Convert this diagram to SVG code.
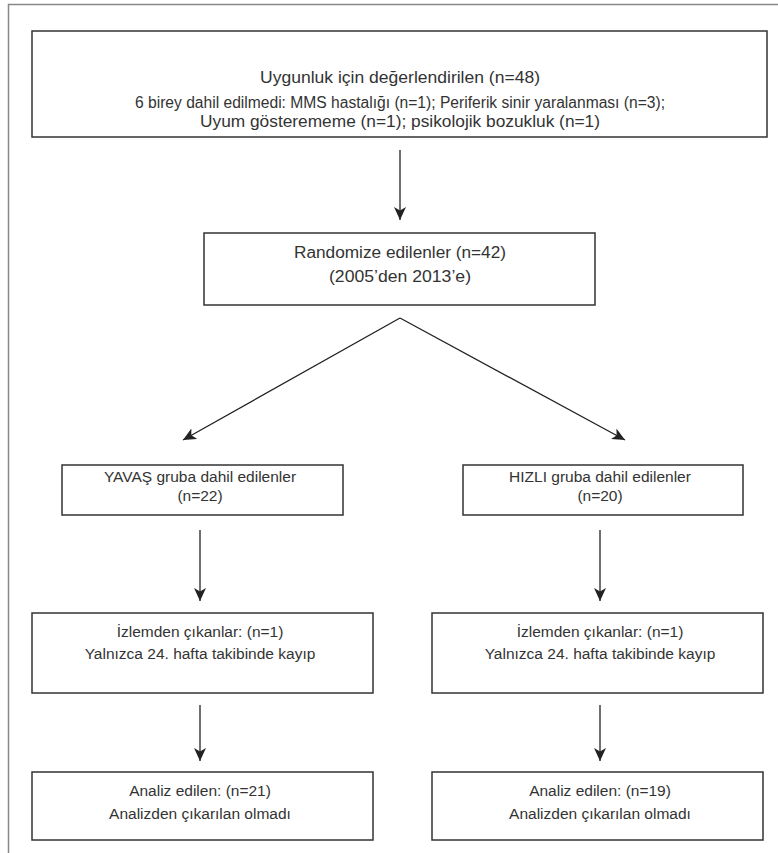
<svg xmlns="http://www.w3.org/2000/svg" width="778" height="853" viewBox="0 0 778 853">
<style>
.box{fill:#fff;stroke:#333;stroke-width:1.5}
.t{font-family:"Liberation Sans",Arial,sans-serif;font-size:15.5px;fill:#333;text-anchor:middle}
.tl{font-size:16px}
.c{stroke:#222;stroke-width:1.3;fill:none}
</style>
<defs>
<marker id="ah" viewBox="0 0 13 12" refX="13" refY="6" markerWidth="13" markerHeight="12" markerUnits="userSpaceOnUse" orient="auto">
<path d="M0,0 L13,6 L0,12 L3.5,6 z" fill="#222"/>
</marker>
</defs>
<rect x="0" y="0" width="778" height="853" fill="#fff"/>
<path d="M8.5,860 V4.5 H780" fill="none" stroke="#888" stroke-width="1.5"/>
<g id="n1">
<rect class="box" x="32" y="31" width="735" height="106"/>
<text class="t tl" x="400" y="83" textLength="280" lengthAdjust="spacingAndGlyphs">Uygunluk için değerlendirilen (n=48)</text>
<text class="t tl" x="400" y="108" textLength="530" lengthAdjust="spacingAndGlyphs">6 birey dahil edilmedi: MMS hastalığı (n=1); Periferik sinir yaralanması (n=3);</text>
<text class="t tl" x="400" y="127" textLength="400" lengthAdjust="spacingAndGlyphs">Uyum gösterememe (n=1); psikolojik bozukluk (n=1)</text>
</g>
<g id="n2">
<rect class="box" x="204" y="233" width="391" height="72"/>
<text class="t tl" x="400" y="258" textLength="212" lengthAdjust="spacingAndGlyphs">Randomize edilenler (n=42)</text>
<text class="t tl" x="400" y="282" textLength="142" lengthAdjust="spacingAndGlyphs">(2005’den 2013’e)</text>
</g>
<g id="n3">
<rect class="box" x="62" y="465" width="281" height="50"/>
<text class="t" x="200" y="482">YAVAŞ gruba dahil edilenler</text>
<text class="t" x="200" y="501">(n=22)</text>
</g>
<g id="n4">
<rect class="box" x="463" y="465" width="280" height="50"/>
<text class="t" x="600" y="482">HIZLI gruba dahil edilenler</text>
<text class="t" x="600" y="501">(n=20)</text>
</g>
<g id="n5">
<rect class="box" x="32" y="613" width="341" height="80"/>
<text class="t" x="200" y="637">İzlemden çıkanlar: (n=1)</text>
<text class="t" x="200" y="659">Yalnızca 24. hafta takibinde kayıp</text>
</g>
<g id="n6">
<rect class="box" x="432" y="613" width="331" height="80"/>
<text class="t" x="600" y="637">İzlemden çıkanlar: (n=1)</text>
<text class="t" x="600" y="659">Yalnızca 24. hafta takibinde kayıp</text>
</g>
<g id="n7">
<rect class="box" x="32" y="772" width="341" height="68"/>
<text class="t" x="200" y="796">Analiz edilen: (n=21)</text>
<text class="t" x="200" y="819">Analizden çıkarılan olmadı</text>
</g>
<g id="n8">
<rect class="box" x="432" y="772" width="331" height="68"/>
<text class="t" x="600" y="796">Analiz edilen: (n=19)</text>
<text class="t" x="600" y="819">Analizden çıkarılan olmadı</text>
</g>
<g id="connectors">
<line class="c" x1="400" y1="150" x2="400" y2="220" marker-end="url(#ah)"/>
<line class="c" x1="400" y1="318" x2="183" y2="440" marker-end="url(#ah)"/>
<line class="c" x1="400" y1="318" x2="625" y2="440" marker-end="url(#ah)"/>
<line class="c" x1="200" y1="530" x2="200" y2="601" marker-end="url(#ah)"/>
<line class="c" x1="600" y1="530" x2="600" y2="601" marker-end="url(#ah)"/>
<line class="c" x1="200" y1="705" x2="200" y2="761" marker-end="url(#ah)"/>
<line class="c" x1="600" y1="705" x2="600" y2="761" marker-end="url(#ah)"/>
</g>
</svg>
